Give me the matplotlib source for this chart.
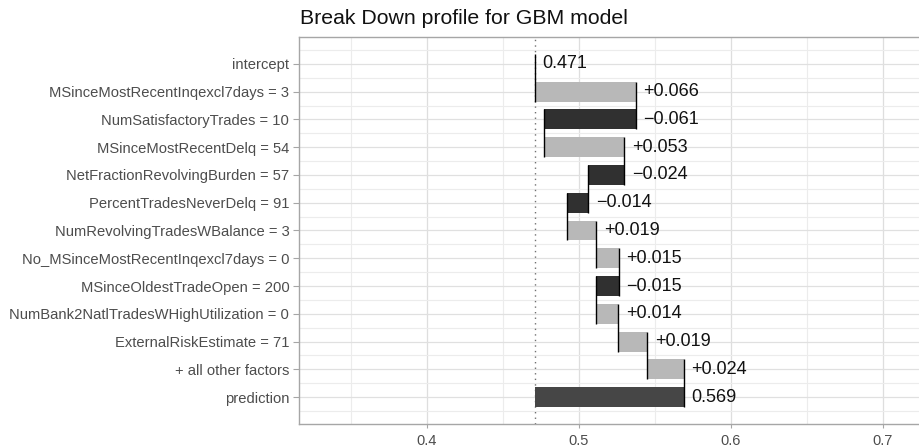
import matplotlib
matplotlib.use("Agg")
import matplotlib.pyplot as plt
import numpy as np

plt.rcParams['font.family'] = ['Liberation Sans', 'DejaVu Sans']

# ---- data ----
variables = [
    "intercept",
    "MSinceMostRecentInqexcl7days = 3",
    "NumSatisfactoryTrades = 10",
    "MSinceMostRecentDelq = 54",
    "NetFractionRevolvingBurden = 57",
    "PercentTradesNeverDelq = 91",
    "NumRevolvingTradesWBalance = 3",
    "No_MSinceMostRecentInqexcl7days = 0",
    "MSinceOldestTradeOpen = 200",
    "NumBank2NatlTradesWHighUtilization = 0",
    "ExternalRiskEstimate = 71",
    "+ all other factors",
    "prediction",
]
intercept = 0.4710
contributions = [0.0664, -0.0607, 0.0532, -0.0238, -0.0142, 0.0193,
                 0.0151, -0.0148, 0.0143, 0.0192, 0.0240]
prediction = 0.569
title = "Break Down profile for GBM model"
xticks = [0.4, 0.5, 0.6, 0.7]

# ---- colours ----
c_pos = "#b8b8b8"
c_neg = "#303030"
c_pred = "#464646"

W, H = 920, 448
fig = plt.figure(figsize=(W / 100, H / 100), dpi=100)
left_px, right_px, top_px, bot_px = 299, 920, 37, 424
ax = fig.add_axes([left_px / W, 1 - bot_px / H,
                   (right_px - left_px) / W, (bot_px - top_px) / H])

n = len(variables)
ypos = np.arange(n, 0, -1)  # intercept at top
bar_h = 0.72

# cumulative
starts, ends = [], []
cur = intercept
starts.append(intercept); ends.append(intercept)
for c in contributions:
    starts.append(cur)
    cur = cur + c
    ends.append(cur)
starts.append(intercept); ends.append(prediction)

x0 = 0.3158
x1 = x0 + (right_px - left_px) / 1520.0
ax.set_xlim(x0, x1)
ax.set_ylim(0.03, n + 0.97)

# grid
for xv in np.arange(0.35, 0.80, 0.1):
    ax.axvline(xv, color="#ececec", lw=0.8, zorder=0)
for xv in xticks:
    ax.axvline(xv, color="#dedede", lw=0.9, zorder=0)
for yv in np.arange(0.5, n + 0.6, 1.0):
    ax.axhline(yv, color="#ececec", lw=0.8, zorder=0)
for yv in ypos:
    ax.axhline(yv, color="#e0e0e0", lw=0.9, zorder=0)

# intercept dotted line
ax.axvline(intercept, color="#707070", lw=1.0, ls=(0, (1, 3)), zorder=1)

# bars
for i in range(n):
    s, e = starts[i], ends[i]
    if i == 0:
        continue
    if i == n - 1:
        col = c_pred
    else:
        col = c_pos if e >= s else c_neg
    ax.barh(ypos[i], e - s, left=s, height=bar_h, color=col, zorder=2, linewidth=0)

# connectors
for i in range(n - 1):
    xv = ends[i]
    ax.plot([xv, xv], [ypos[i] + bar_h / 2, ypos[i + 1] - bar_h / 2],
            color="black", lw=1.0, zorder=3, solid_capstyle="butt")

# labels
for i in range(n):
    s, e = starts[i], ends[i]
    if i == 0:
        txt = f"{intercept:.3f}"
    elif i == n - 1:
        txt = f"{prediction:.3f}"
    else:
        v = contributions[i - 1]
        txt = ("+" if v >= 0 else "\u2212") + f"{abs(v):.3f}"
    ax.annotate(txt, xy=(max(s, e), ypos[i]), xytext=(5.5, 0),
                textcoords="offset points", va="center", ha="left",
                fontsize=13, color="#111111", zorder=4)

ax.set_yticks(ypos)
ax.set_yticklabels(variables)
ax.set_xticks(xticks)
ax.set_xticklabels([f"{v:.1f}" for v in xticks])
ax.tick_params(axis="y", labelsize=10.6, colors="#a6a6a6", labelcolor="#4d4d4d",
               length=4, width=0.8, pad=3)
ax.tick_params(axis="x", labelsize=10.5, colors="#a6a6a6", labelcolor="#4d4d4d",
               length=3, width=0.8, pad=4)

for side in ["left", "bottom", "top"]:
    ax.spines[side].set_color("#a6a6a6")
    ax.spines[side].set_linewidth(1.0)
ax.spines["right"].set_visible(False)

fig.text(300.5 / W, 1 - 24 / H, title, fontsize=15.3, color="#111111",
         ha="left", va="baseline")

fig.savefig("out.png", dpi=100)
